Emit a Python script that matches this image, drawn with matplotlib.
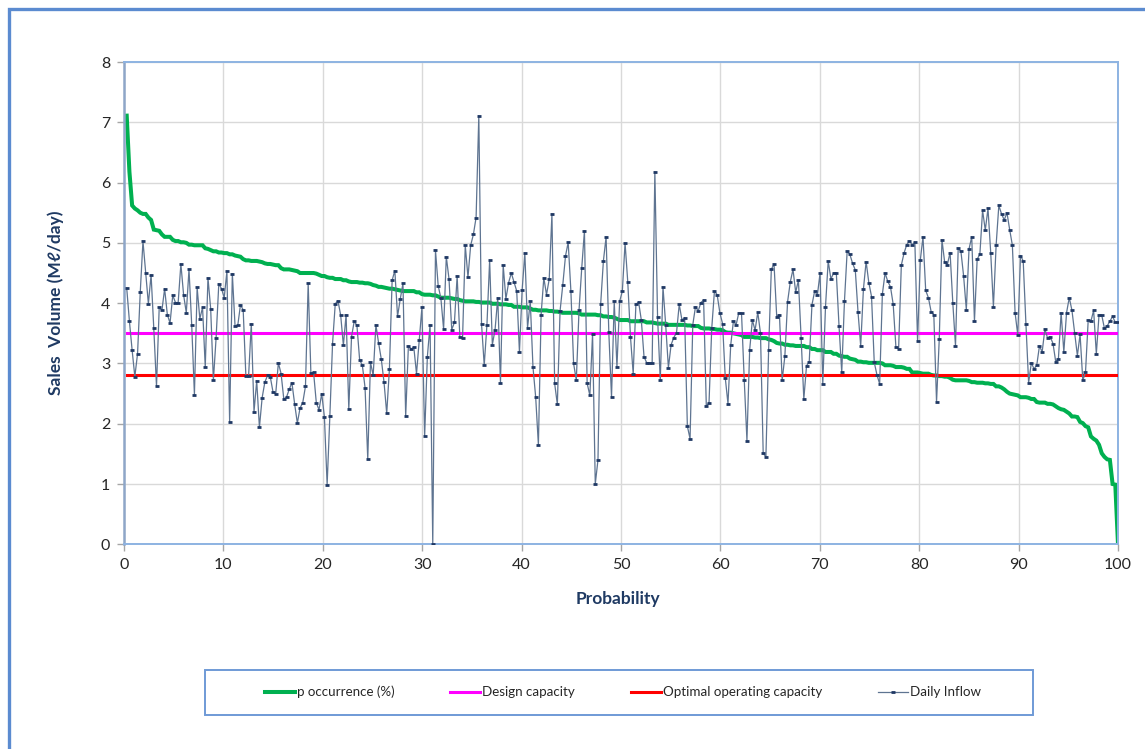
import numpy as np
import matplotlib.pyplot as plt
from matplotlib.patches import Rectangle

# daily inflow readings, in day order (Mℓ/day)
daily_inflow = [
    4.25, 3.70, 3.22, 2.78, 3.16, 4.18, 5.03, 4.50, 3.99, 4.47,
    3.58, 2.62, 3.93, 3.88, 4.24, 3.81, 3.67, 4.13, 4.01, 4.01,
    4.65, 4.14, 3.84, 4.56, 3.64, 2.48, 4.26, 3.74, 3.93, 2.94,
    4.42, 3.91, 2.72, 3.42, 4.32, 4.24, 4.09, 4.53, 2.03, 4.49,
    3.62, 3.63, 3.97, 3.89,
    2.79, 2.79, 3.66, 2.20, 2.71, 1.94, 2.43, 2.69, 2.80, 2.78,
    2.53, 2.49, 3.01, 2.83, 2.41, 2.44, 2.57, 2.68, 2.33, 2.01,
    2.26, 2.35, 2.62, 4.33, 2.84, 2.85, 2.35, 2.23, 2.50, 2.11,
    0.99, 2.12, 3.33, 3.99, 4.04, 3.80, 3.30, 3.81, 2.24, 3.44,
    3.70, 3.63, 3.06, 2.97, 2.60, 1.41, 3.02,
    2.80, 3.64, 3.34, 3.07, 2.69, 2.17, 2.91, 4.38, 4.54, 3.78,
    4.07, 4.33, 2.12, 3.29, 3.24, 3.27, 2.83, 3.39, 3.93, 1.79,
    3.11, 3.64, 0.00, 4.88, 4.29, 4.08, 3.57, 4.77, 4.40, 3.56,
    3.68, 4.45, 3.44, 3.42, 4.96, 4.43, 4.96, 5.14, 5.42, 7.11,
    3.66, 2.97, 3.64, 4.71, 3.31, 3.56,
    4.09, 2.68, 4.63, 4.07, 4.34, 4.50, 4.35, 4.20, 3.19, 4.22,
    4.83, 3.59, 4.03, 2.94, 2.44, 1.65, 3.81, 4.42, 4.14, 4.40,
    5.48, 2.67, 2.32, 3.87, 4.30, 4.78, 5.01, 4.20, 3.00, 2.72,
    3.88, 4.58, 5.20, 2.67, 2.47, 3.49, 1.00, 1.40, 3.99, 4.70,
    5.10, 3.52, 2.44, 4.03, 2.94, 4.03,
    4.20, 5.00, 4.35, 3.44, 2.83, 3.98, 4.02, 3.72, 3.11, 3.01,
    3.01, 3.01, 6.18, 3.77, 2.72, 4.27, 3.64, 2.93, 3.31, 3.43,
    3.51, 3.98, 3.72, 3.76, 1.96, 1.75, 3.64, 3.94, 3.87, 4.01,
    4.05, 2.29, 2.35, 3.58, 4.20, 4.14, 3.84, 3.66, 2.76, 2.33,
    3.30, 3.70, 3.64, 3.84, 3.83, 2.73,
    1.72, 3.22, 3.72, 3.55, 3.85, 3.50, 1.51, 1.45, 3.22, 4.56,
    4.65, 3.77, 3.81, 2.72, 3.12, 4.02, 4.35, 4.56, 4.18, 4.38,
    3.43, 2.41, 2.96, 3.03, 3.97, 4.20, 4.13, 4.50, 2.66, 3.94,
    4.70, 4.40, 4.50, 4.50, 3.62, 2.85, 4.03, 4.86, 4.81, 4.66,
    4.55, 3.86, 3.29, 4.23, 4.69, 4.34,
    4.11, 3.02, 2.81, 2.66, 4.15, 4.50, 4.36, 4.27, 3.98, 3.27,
    3.24, 4.63, 4.83, 4.97, 5.03, 4.97, 5.01, 3.37, 4.71, 5.10,
    4.21, 4.09, 3.86, 3.81, 2.36, 3.40, 5.05, 4.68, 4.64, 4.84,
    4.01, 3.29, 4.91, 4.86, 4.45, 3.89, 4.90, 5.10, 3.70, 4.73,
    4.81, 5.54, 5.21, 5.57, 4.84, 3.94,
    4.96, 5.62, 5.48, 5.38, 5.50, 5.22, 4.96, 3.84, 3.47, 4.79,
    4.70, 3.66, 2.68, 3.01, 2.91, 2.97, 3.29, 3.19, 3.57, 3.42,
    3.44, 3.33, 3.03, 3.08, 3.84, 3.19, 3.84, 4.09, 3.88, 3.51,
    3.13, 3.48, 2.72, 2.85, 3.72, 3.70, 3.88, 3.16, 3.81, 3.80,
    3.58, 3.62, 3.70, 3.78, 3.68, 3.68,
]

design_capacity = 3.5
optimal_capacity = 2.8

x_ticks = [0, 10, 20, 30, 40, 50, 60, 70, 80, 90, 100]
y_ticks = [0, 1, 2, 3, 4, 5, 6, 7, 8]

# probability axis: rank of each day over the record
n = len(daily_inflow)
prob = np.arange(1, n + 1) / n * 100
# flow duration curve = inflow sorted high to low
p_occurrence = np.sort(daily_inflow)[::-1]

navy = '#1F3864'
label_col = '#1F3A63'
fam = ['Lato', 'DejaVu Sans']
plt.rcParams['font.family'] = fam

fig = plt.figure(figsize=(11.45, 7.49), dpi=100)
W, H = 1145, 749
ax = fig.add_axes([124 / W, 1 - 544.3 / H, 994 / W, (544.3 - 62) / H])

ax.plot(prob, p_occurrence, color='#00B050', lw=2.9, zorder=2,
        solid_joinstyle='miter', label='p occurrence (%)')
ax.plot(prob, np.full(n, design_capacity), color='#FF00FF', lw=2.2, zorder=3,
        label='Design capacity')
ax.plot(prob, np.full(n, optimal_capacity), color='#FF0000', lw=2.2, zorder=3,
        label='Optimal operating capacity')
ax.plot(prob, daily_inflow, color='#5E7491', lw=0.9, zorder=4,
        marker='_', ms=3.4, mew=2.0, mec=navy, mfc=navy, label='Daily Inflow')

ax.set_xlim(0, 100)
ax.set_ylim(0, 8)
ax.set_xticks(x_ticks)
ax.set_yticks(y_ticks)
ax.grid(True, color='#D9D9D9', lw=1.0)
ax.set_axisbelow(True)
ax.tick_params(direction='out', length=5, width=1, color='#A6A6A6',
               labelsize=11.5, labelcolor='#262626', pad=5)
for side in ['top', 'right', 'bottom']:
    ax.spines[side].set_color('#8DB3E2')
    ax.spines[side].set_linewidth(1.4)
ax.spines['left'].set_color('#8EA6C8')
ax.spines['left'].set_linewidth(1.8)

ax.set_ylabel('Sales  Volume (Mℓ/day)', fontsize=12.5, fontweight='bold',
              color=label_col)
ax.yaxis.set_label_coords(-(124 - 64) / 994, 0.5)
ax.set_xlabel('Probability', fontsize=12.5, fontweight='bold', color=label_col)
ax.xaxis.set_label_coords(0.497, -(591 - 544) / 482)

# legend box across the bottom
fig.patches.append(Rectangle((205 / W, 1 - 715 / H), 828 / W, 45 / H,
                             transform=fig.transFigure, fill=False,
                             edgecolor='#6F9AD6', lw=1.4))
leg = fig.legend(loc='center', bbox_to_anchor=(623 / W, 1 - 692 / H), ncol=4,
                 frameon=False, fontsize=9.6, handlelength=2.25,
                 handletextpad=0.15, columnspacing=4.2)
for t in leg.get_texts():
    t.set_color('#262626')

# outer chart border (only left and top edges fall inside the canvas)
fig.patches.append(Rectangle((9 / W, -0.1), 1.2, 1 - 9 / H + 0.1,
                             transform=fig.transFigure, fill=False,
                             edgecolor='#5B8BD0', lw=2.4, clip_on=False))

fig.savefig('out.png', dpi=100)
